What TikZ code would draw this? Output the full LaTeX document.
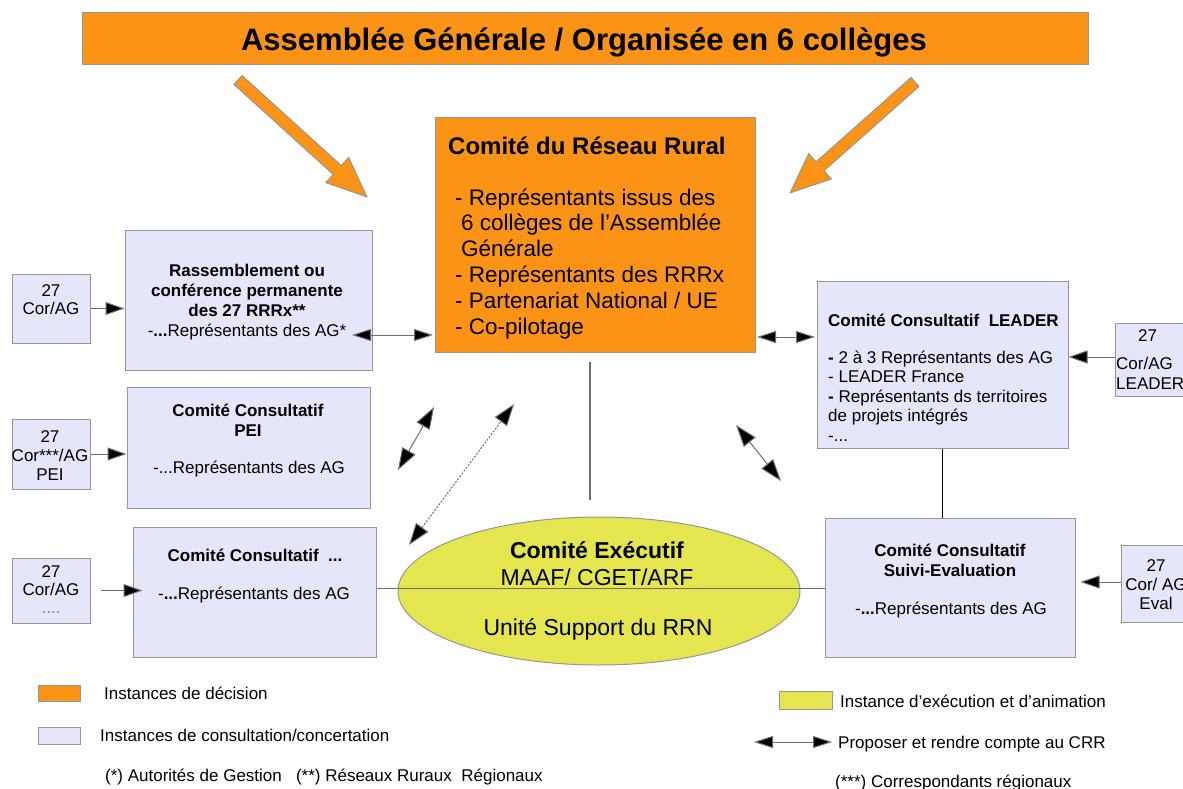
\documentclass[tikz,border=0pt]{standalone}
\usepackage{fontspec}
\setmainfont{Liberation Sans}
\usetikzlibrary{arrows.meta,shapes.geometric}
\definecolor{orangeB}{RGB}{251,148,22}
\definecolor{lav}{RGB}{230,230,250}
\definecolor{yel}{RGB}{229,229,80}
\definecolor{bgray}{RGB}{150,150,150}
\definecolor{lgray}{RGB}{110,110,110}
\tikzset{
  bx/.style={draw=bgray, line width=1pt, inner sep=0pt},
  lavbox/.style={bx, fill=lav},
  orbox/.style={bx, fill=orangeB},
  txt/.style={inner sep=0pt, font=\fontsize{17}{19.7}\selectfont},
  sarr/.style={draw=lgray, line width=1pt, -{Triangle[length=19pt,width=13pt,fill=black]}},
  darr/.style={draw=lgray, line width=1pt, {Triangle[length=19pt,width=12pt,fill=black]}-{Triangle[length=19pt,width=12pt,fill=black]}},
  dgarr/.style={draw=lgray, line width=1pt, {Triangle[length=22pt,width=15pt,fill=black]}-{Triangle[length=22pt,width=15pt,fill=black]}},
  bigarrow/.style={draw=bgray, line width=1pt, fill=orangeB},
  conn/.style={draw=lgray, line width=1pt}
}
\begin{document}
\begin{tikzpicture}[x=1pt,y=-1pt]
\useasboundingbox (0,0) rectangle (1183,789);
\clip (0,0) rectangle (1183,789);

% title
\node[orbox, minimum width=1006pt, minimum height=52pt] (title) at (585,39) {};
\node[inner sep=0pt, font=\fontsize{31}{36}\selectfont\bfseries, anchor=base] (titletxt) at (584,51) {Assemblée Générale / Organisée en 6 collèges};

% big orange arrows
\begin{scope}[shift={(238,80)}, rotate=-42.2]
\filldraw[bigarrow] (0,-6) -- (134,-6) -- (134,-17) -- (174,0) -- (134,17) -- (134,6) -- (0,6) -- cycle;
\end{scope}
\begin{scope}[shift={(915,82)}, rotate=-138.4]
\filldraw[bigarrow] (0,-6) -- (127,-6) -- (127,-17) -- (167,0) -- (127,17) -- (127,6) -- (0,6) -- cycle;
\end{scope}

% CRR
\node[orbox, minimum width=320pt, minimum height=234pt] (crr) at (595,235) {};
\node[inner sep=0pt, anchor=base west, font=\fontsize{24}{28}\selectfont\bfseries] (crrtitle) at (448,154) {Comité du Réseau Rural};
\node[inner sep=0pt, anchor=base west, align=left, font=\fontsize{22.5}{25.8}\selectfont] (crrbody) at (455,334)
 {- Représentants issus des\\\hspace*{6pt}6 collèges de l’Assemblée\\\hspace*{6pt}Générale\\- Représentants des RRRx\\- Partenariat National / UE\\- Co-pilotage};

% left column
\node[lavbox, minimum width=247pt, minimum height=140pt] (rass) at (248.5,300) {};
\node[txt, anchor=base, align=center] (rasstxt) at (247,336)
 {\textbf{Rassemblement ou}\\\textbf{conférence permanente}\\\textbf{des 27 RRRx**}\\-\textbf{...}Représentants des AG*};
\node[lavbox, minimum width=78pt, minimum height=69pt] (s1) at (51,308.5) {};
\node[txt, anchor=base, align=center, font=\fontsize{17}{18}\selectfont] (s1txt) at (51,314) {27\\Cor/AG};

\node[lavbox, minimum width=243pt, minimum height=121pt] (pei) at (248.5,447.5) {};
\node[txt, anchor=base, align=center, font=\fontsize{17}{20}\selectfont\bfseries] (peititle) at (248,436) {Comité Consultatif\\PEI};
\node[txt, anchor=base] (peibody) at (249,473) {-...Représentants des AG};
\node[lavbox, minimum width=78pt, minimum height=70pt] (s2) at (51,454) {};
\node[txt, anchor=base, align=center, font=\fontsize{17}{19}\selectfont] (s2txt) at (50,480) {27\\Cor***/AG\\PEI};

\node[lavbox, minimum width=243pt, minimum height=130pt] (cc3) at (254.5,592) {};
\node[txt, anchor=base, font=\fontsize{17}{20}\selectfont\bfseries] (cc3title) at (255,561) {Comité Consultatif\ \ ...};
\node[txt, anchor=base] (cc3body) at (254,599) {-\textbf{...}Représentants des AG};
\node[lavbox, minimum width=78pt, minimum height=65pt] (s3) at (51,590.5) {};
\node[txt, anchor=base, align=center, font=\fontsize{17}{18}\selectfont] (s3txt) at (51,613) {27\\Cor/AG\\{\color{gray}....}};

% executive ellipse
\node[ellipse, draw=bgray, line width=1pt, fill=yel, minimum width=402pt, minimum height=148pt, inner sep=0pt] (ell) at (599,591) {};
\node[inner sep=0pt, anchor=base, align=center, font=\fontsize{23}{27}\selectfont] (elltxt) at (597,585) {\textbf{Comité Exécutif}\\MAAF/ CGET/ARF};
\node[inner sep=0pt, anchor=base, font=\fontsize{23}{27}\selectfont] (elltxt2) at (598,635) {Unité Support du RRN};

% right column
\node[lavbox, minimum width=251pt, minimum height=167pt] (leader) at (942.5,364.5) {};
\node[txt, anchor=base west, font=\fontsize{17}{20}\selectfont\bfseries] (leadertitle) at (828,326) {Comité Consultatif\ \ LEADER};
\node[txt, anchor=base west, align=left, font=\fontsize{17}{19.5}\selectfont] (leaderbody) at (828,441)
 {\textbf{-} 2 à 3 Représentants des AG\\- LEADER France\\\textbf{-} Représentants ds territoires\\de projets intégrés\\-...};
\node[lavbox, minimum width=78pt, minimum height=73pt] (s4) at (1154,359.5) {};
\node[txt, anchor=base west, align=left, font=\fontsize{17}{20}\selectfont] (s4txt) at (1116,389) {\hspace*{22pt}27\\[8pt]Cor/AG\\LEADER};

\node[lavbox, minimum width=250pt, minimum height=139pt] (suivi) at (950,587.5) {};
\node[txt, anchor=base, align=center, font=\fontsize{17}{20}\selectfont\bfseries] (suivititle) at (950,576) {Comité Consultatif\\Suivi-Evaluation};
\node[txt, anchor=base] (suivibody) at (951,614) {-\textbf{...}Représentants des AG};
\node[lavbox, minimum width=76pt, minimum height=77pt] (s5) at (1159,583.5) {};
\node[txt, anchor=base, align=center, font=\fontsize{17}{19}\selectfont] (s5txt) at (1156,609) {27\\Cor/ AG\\Eval};

% connectors from small boxes
\draw[sarr] (s1.east) -- (s1.east -| rass.west);
\draw[sarr] (s2.east) -- (s2.east -| pei.west);
\draw[sarr] ([xshift=10pt]s3.east) -- ([xshift=10pt]s3.east -| cc3.west);
\draw[sarr] ([yshift=2.5pt]s4.west) -- ([yshift=2.5pt]s4.west -| leader.east);
\draw[sarr] ([yshift=1.5pt]s5.west) -- ([yshift=1.5pt,xshift=5pt]s5.west -| suivi.east);

% double arrows
\coordinate (ra) at (352,335);
\coordinate (rb) at (433,335);
\draw[darr] (ra) -- (rb);
\coordinate (la) at (757,337);
\coordinate (lb) at (815,337);
\draw[darr] (la) -- (lb);
\coordinate (d1a) at (398,470);
\coordinate (d1b) at (434,407);
\draw[dgarr] (d1a) -- (d1b);
\coordinate (d2a) at (409,545);
\coordinate (d2b) at (514,404);
\draw[dgarr, dash pattern=on 2pt off 1.5pt] (d2a) -- (d2b);
\coordinate (d3a) at (736,425);
\coordinate (d3b) at (781,481);
\draw[dgarr] (d3a) -- (d3b);

% plain lines
\coordinate (v1a) at (590,362);
\coordinate (v1b) at (590,500);
\draw[conn, line width=1.4pt] (v1a) -- (v1b);
\draw[draw=black, line width=1pt] (leader.south) -- (leader.south |- suivi.north);
\draw[conn] (cc3.east |- 0,588) -- (suivi.west |- 0,588);

% legend
\node[orbox, minimum width=42pt, minimum height=16pt] (leg1) at (59,693) {};
\node[txt, anchor=base west] (leg1txt) at (104,699) {Instances de décision};
\node[lavbox, minimum width=42pt, minimum height=17pt] (leg2) at (59,735.5) {};
\node[txt, anchor=base west] (leg2txt) at (100,741) {Instances de consultation/concertation};
\node[txt, anchor=base west] (leg3txt) at (105,781) {(*) Autorités de Gestion\ \ \ (**) Réseaux Ruraux\ \ Régionaux};
\node[bx, fill=yel, minimum width=53pt, minimum height=18pt] (leg4) at (805.5,700) {};
\node[txt, anchor=base west] (leg4txt) at (840,707) {Instance d’exécution et d’animation};
\coordinate (lga) at (754,742);
\coordinate (lgb) at (832,742);
\draw[darr] (lga) -- (lgb);
\node[txt, anchor=base west] (leg5txt) at (838,748) {Proposer et rendre compte au CRR};
\node[txt, anchor=base west] (leg6txt) at (835,787) {(***) Correspondants régionaux};
\end{tikzpicture}
\end{document}
